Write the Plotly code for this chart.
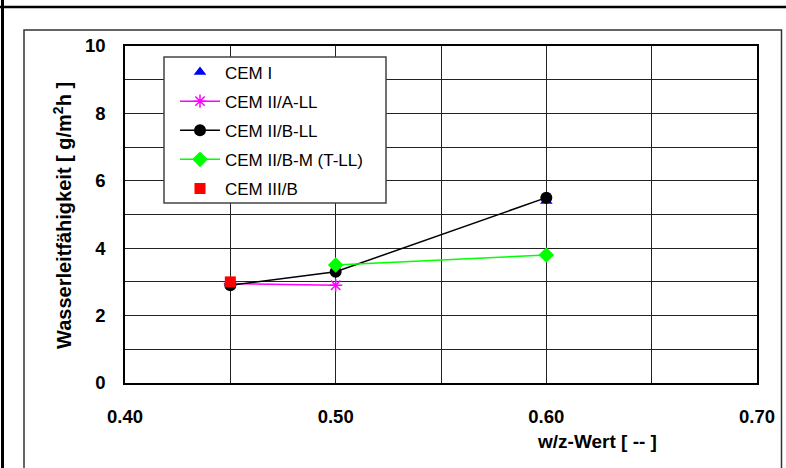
import plotly.graph_objects as go

# w/z values and water conductivity [g/(m²h)] per cement type
wz_cem1 = [0.60]
val_cem1 = [5.4]

wz_cem2a_ll = [0.45, 0.50]
val_cem2a_ll = [2.95, 2.9]

wz_cem2b_ll = [0.45, 0.50, 0.60]
val_cem2b_ll = [2.9, 3.3, 5.5]

wz_cem2b_m = [0.50, 0.60]
val_cem2b_m = [3.5, 3.8]

wz_cem3b = [0.45]
val_cem3b = [3.0]

x_tick_vals = [0.40, 0.50, 0.60, 0.70]
x_tick_text = ["0.40", "0.50", "0.60", "0.70"]
y_tick_vals = [0, 2, 4, 6, 8, 10]

W, H = 786, 468
L, R, T, B = 125, 757, 46, 383  # plot area in pixels


def px(x):
    return (x - L) / (R - L)


def py(y):
    return (B - y) / (B - T)


FONT = "Liberation Sans, Arial, sans-serif"
TICK_FONT = dict(family=FONT, size=18.5, color="black", weight="bold")

fig = go.Figure()

fig.add_trace(go.Scatter(
    x=wz_cem1, y=val_cem1, mode="markers", name="CEM I", legendgroup="a",
    marker=dict(symbol="triangle-up", size=11, color="#0000FF"),
))
fig.add_trace(go.Scatter(
    x=wz_cem2a_ll, y=val_cem2a_ll, mode="lines+markers", name="CEM II/A-LL", legendgroup="b",
    line=dict(color="#FF00FF", width=1.5),
    marker=dict(symbol="asterisk-open", size=11, line=dict(color="#FF00FF", width=1.5)),
))
fig.add_trace(go.Scatter(
    x=wz_cem2b_ll, y=val_cem2b_ll, mode="lines+markers", name="CEM II/B-LL", legendgroup="c",
    line=dict(color="#000000", width=1.5),
    marker=dict(symbol="circle", size=12, color="#000000"),
))
fig.add_trace(go.Scatter(
    x=wz_cem2b_m, y=val_cem2b_m, mode="lines+markers", name="CEM II/B-M (T-LL)", legendgroup="d",
    line=dict(color="#00FF00", width=1.5),
    marker=dict(symbol="diamond", size=12, color="#00FF00"),
))
fig.add_trace(go.Scatter(
    x=wz_cem3b, y=val_cem3b, mode="markers", name="CEM III/B", legendgroup="e",
    marker=dict(symbol="square", size=11, color="#FF0000"),
))

shapes = [
    # outer page frame
    dict(type="line", xref="paper", yref="paper", x0=px(0), x1=px(W), y0=py(7), y1=py(7),
         line=dict(color="black", width=2.5)),
    dict(type="line", xref="paper", yref="paper", x0=px(2.5), x1=px(2.5), y0=py(0), y1=py(H),
         line=dict(color="black", width=3)),
    # chart area frame
    dict(type="rect", xref="paper", yref="paper", x0=px(24), x1=px(781.5), y0=py(30), y1=py(H + 5),
         line=dict(color="#333333", width=1.5), layer="below"),
    # legend box
    dict(type="rect", xref="paper", yref="paper", x0=px(164), x1=px(386), y0=py(57), y1=py(203),
         line=dict(color="#444444", width=1.5), fillcolor="white", layer="above"),
]

annotations = [
    dict(text="Wasserleitfähigkeit [ g/m<sup>2</sup>h ]", xref="paper", yref="paper",
         x=px(62), y=py(216), textangle=-90, showarrow=False,
         font=dict(family=FONT, size=20, color="black", weight="bold"),
         xanchor="center", yanchor="middle"),
    dict(text="w/z-Wert [ -- ]", xref="paper", yref="paper",
         x=px(597), y=py(441), showarrow=False,
         font=dict(family=FONT, size=19, color="black", weight="bold"),
         xanchor="center", yanchor="middle"),
]

fig.update_layout(
    width=W, height=H,
    margin=dict(l=L, r=W - R, t=T, b=H - B, pad=0),
    paper_bgcolor="white", plot_bgcolor="white",
    font=dict(family=FONT, size=17, color="black"),
    shapes=shapes,
    annotations=annotations,
    showlegend=True,
    legend=dict(
        x=px(164), y=py(54.5), xanchor="left", yanchor="top",
        bgcolor="rgba(0,0,0,0)", borderwidth=0,
        font=dict(family=FONT, size=17, color="black"),
        tracegroupgap=4, traceorder="grouped",
        itemwidth=40, indentation=11,
    ),
)

fig.update_xaxes(
    range=[0.40, 0.70], tickvals=x_tick_vals, ticktext=x_tick_text,
    showgrid=True, gridcolor="#222222", gridwidth=1,
    minor=dict(dtick=0.05, tick0=0.40, showgrid=True, gridcolor="#222222", gridwidth=1),
    showline=True, linecolor="black", linewidth=1.5, mirror=True,
    ticks="", ticklabelstandoff=16,
    tickfont=TICK_FONT,
    zeroline=False,
)
fig.update_yaxes(
    range=[0, 10], tickvals=y_tick_vals,
    showgrid=True, gridcolor="#222222", gridwidth=1,
    minor=dict(dtick=1, tick0=0, showgrid=True, gridcolor="#222222", gridwidth=1),
    showline=True, linecolor="black", linewidth=1.5, mirror=True,
    ticks="", ticklabelstandoff=14,
    tickfont=TICK_FONT,
    zeroline=False,
)

fig.write_html("out.html")
